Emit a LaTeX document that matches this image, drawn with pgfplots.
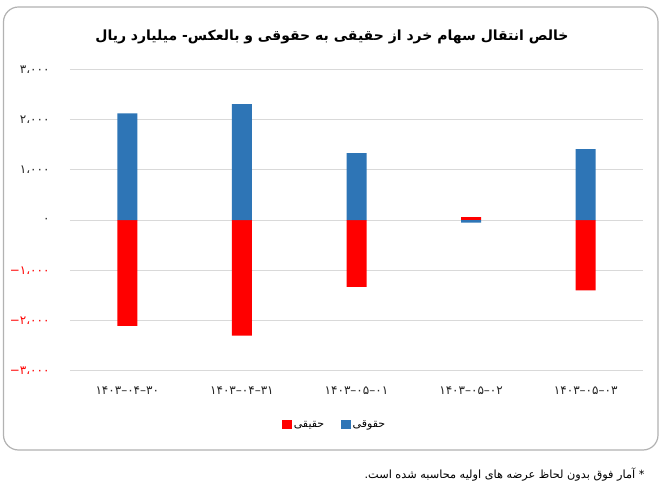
\documentclass[border=0pt]{standalone}
\usepackage{fontspec}
\usepackage{pgfplots}
\pgfplotsset{compat=1.18}
\TeXXeTstate=1
\newfontfamily\fa[Script=Arabic]{DejaVu Sans}
\newfontfamily\dv{DejaVu Sans}
\definecolor{cblue}{HTML}{2E75B6}
\definecolor{cred}{HTML}{FF0000}
\definecolor{gridc}{HTML}{D9D9D9}
\newcommand\negv[1]{\textcolor{cred}{{\dv −}#1}}
\newcommand\dd{{\dv –}}
\begin{document}
\begin{tikzpicture}[x=1pt,y=1pt]
\useasboundingbox (0,0) rectangle (669,490);
\fill[white] (0,0) rectangle (669,490);
\draw[line width=1.2pt, color=black!30, rounded corners=15pt] (3.5,40) rectangle (658,483);
\node[font=\fa\bfseries\fontsize{14}{17}\selectfont] at (332,453) {\beginR خالص انتقال سهام خرد از حقیقی به حقوقی و بالعکس- میلیارد ریال\endR};
\node[anchor=east, font=\fa\fontsize{11.3}{13}\selectfont] at (648,15) {\beginR * آمار فوق بدون لحاظ عرضه های اولیه محاسبه شده است.\endR};
\begin{axis}[
  at={(70pt,119.3pt)}, anchor=south west,
  scale only axis, width=573pt, height=301.4pt,
  xmin=-0.5, xmax=4.5, ymin=-3000, ymax=3000,
  axis line style={draw=none}, tick style={draw=none},
  ymajorgrids, grid style={gridc, line width=0.8pt},
  xtick={0,1,2,3,4},
  xticklabels={{۱۴۰۳\dd۰۴\dd۳۰},{۱۴۰۳\dd۰۴\dd۳۱},{۱۴۰۳\dd۰۵\dd۰۱},{۱۴۰۳\dd۰۵\dd۰۲},{۱۴۰۳\dd۰۵\dd۰۳}},
  ytick={-3000,-2000,-1000,0,1000,2000,3000},
  yticklabels={{\negv{۳،۰۰۰}},{\negv{۲،۰۰۰}},{\negv{۱،۰۰۰}},{۰},{۱،۰۰۰},{۲،۰۰۰},{۳،۰۰۰}},
  tick label style={font=\fa\fontsize{12}{14}\selectfont, text=black!85},
  yticklabel style={anchor=east, xshift=-17pt},
  xticklabel style={yshift=-8pt},
  ybar, bar width=20pt, bar shift=0pt,
  legend style={at={(0.462,-0.18)}, anchor=center, draw=none, fill=none,
    legend columns=2, font=\fa\fontsize{11}{13}\selectfont,
    /tikz/every even column/.append style={column sep=15pt}},
  legend image code/.code={\fill[#1] (0pt,-4.5pt) rectangle (9.5pt,5pt);},
]
\addplot[fill=cred, draw=none] coordinates {(0,-2110) (1,-2300) (2,-1330) (3,55) (4,-1400)};
\addlegendentry{حقیقی}
\addplot[fill=cblue, draw=none] coordinates {(0,2125) (1,2305) (2,1330) (3,-50) (4,1410)};
\addlegendentry{حقوقی}
\end{axis}
\end{tikzpicture}
\end{document}
